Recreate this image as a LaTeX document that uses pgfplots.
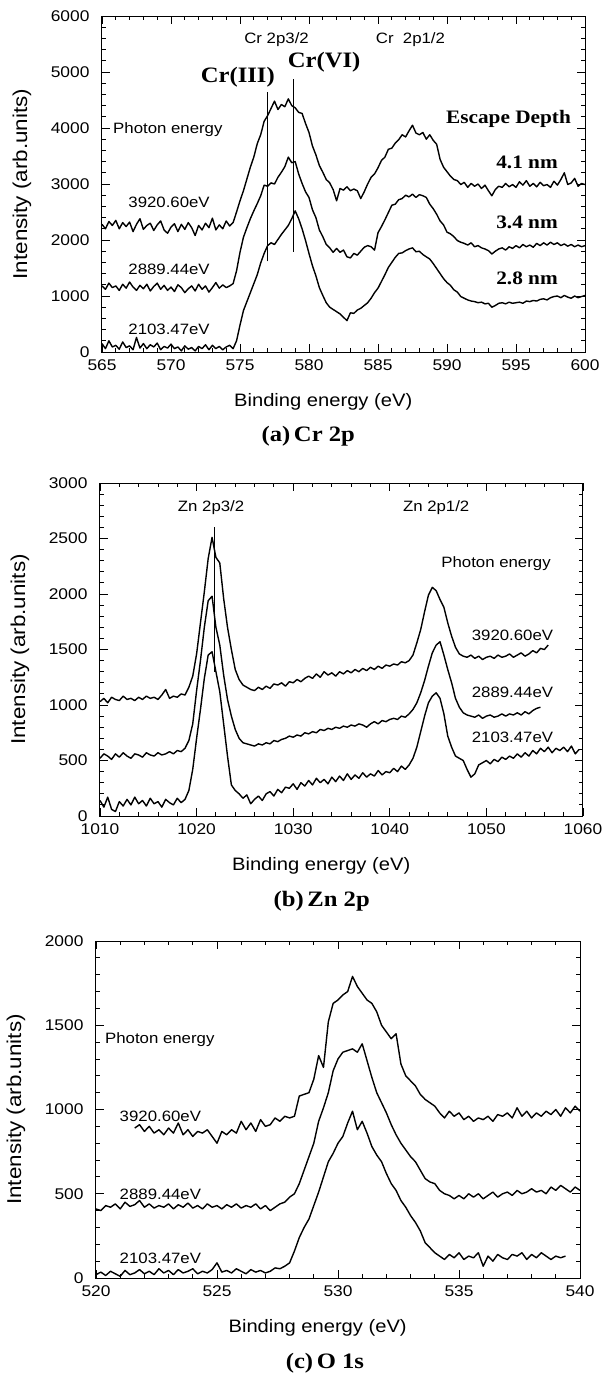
\documentclass[border=0pt]{standalone}
\usepackage{fontspec}
\setmainfont{Liberation Sans}[FakeStretch=1.12]
\newfontfamily\capfont{Liberation Serif}[FakeStretch=1.12]
\usepackage{pgfplots}
\usepackage{pgfplotstable}
\pgfplotsset{compat=1.18}

% E = binding energy, T/M/B = 3920.60, 2889.44, 2103.47 eV photon energy
\pgfplotstableread{
E T M B
565.00 2280 1180 150
565.25 2200 1120 60
565.50 2330 1230 200
565.75 2260 1150 90
566.00 2350 1180 120
566.25 2200 1100 50
566.50 2310 1210 180
566.75 2240 1140 80
567.00 2320 1250 110
567.25 2150 1160 40
567.50 2280 1100 260
567.75 2380 1190 70
568.00 2190 1130 150
568.25 2260 1210 60
568.50 2300 1090 130
568.75 2170 1170 90
569.00 2270 1230 160
569.25 2340 1120 40
569.50 2180 1190 100
569.75 2120 1100 70
570.00 2230 1160 140
570.25 2290 1080 60
570.50 2150 1200 90
570.75 2280 1150 20
571.00 2190 1060 110
571.25 2310 1130 50
571.50 2220 1180 80
571.75 2080 1090 20
572.00 2260 1210 100
572.25 2180 1120 60
572.50 2300 1180 130
572.75 2220 1070 40
573.00 2390 1150 120
573.25 2180 1240 60
573.50 2270 1140 100
573.75 2200 1200 40
574.00 2340 1150 90
574.25 2250 1180 120
574.50 2310 1220 60
574.75 2500 1450 200
575.00 2700 1780 480
575.25 2880 2050 740
575.50 3090 2220 900
575.75 3300 2380 1060
576.00 3480 2520 1220
576.25 3720 2650 1380
576.50 3880 2790 1590
576.75 4120 2980 1760
577.00 4220 2960 1900
577.25 4350 3020 1950
577.50 4480 3000 1920
577.75 4330 3120 2010
578.00 4420 3210 2100
578.25 4380 3310 2180
578.50 4520 3480 2260
578.75 4400 3380 2380
579.00 4360 3400 2520
579.25 4280 3180 2380
579.50 4260 3010 2200
579.75 4080 2860 1990
580.00 3920 2760 1760
580.25 3680 2540 1540
580.50 3520 2400 1360
580.75 3330 2180 1150
581.00 3210 2060 1010
581.25 3080 1920 880
581.50 3020 1860 800
581.75 2900 1780 760
582.00 2700 1850 720
582.25 2920 1780 680
582.50 2890 1820 620
582.75 2950 1700 560
583.00 2880 1680 700
583.25 2910 1760 690
583.50 2880 1730 750
583.75 2740 1800 780
584.00 2860 1870 830
584.25 3000 1900 880
584.50 3120 1880 960
584.75 3180 1820 1060
585.00 3290 2130 1140
585.25 3420 2240 1260
585.50 3480 2360 1380
585.75 3620 2490 1510
586.00 3640 2620 1600
586.25 3730 2640 1690
586.50 3790 2720 1760
586.75 3880 2740 1770
587.00 3840 2800 1810
587.25 3950 2770 1840
587.50 4050 2820 1860
587.75 3910 2760 1790
588.00 3880 2810 1800
588.25 3920 2790 1740
588.50 3800 2760 1700
588.75 3880 2640 1660
589.00 3780 2560 1580
589.25 3710 2460 1490
589.50 3440 2340 1400
589.75 3300 2270 1310
590.00 3220 2140 1240
590.25 3140 2110 1190
590.50 3080 2060 1110
590.75 3060 1990 1070
591.00 2990 1960 990
591.25 3030 1940 960
591.50 2940 1910 930
591.75 3010 1950 910
592.00 2960 1880 900
592.25 3000 1900 880
592.50 2920 1860 890
592.75 2980 1840 860
593.00 2880 1810 870
593.25 2790 1750 800
593.50 2900 1800 830
593.75 2960 1840 870
594.00 2940 1860 880
594.25 3010 1820 860
594.50 2950 1880 890
594.75 2990 1850 870
595.00 2940 1900 880
595.25 3040 1860 890
595.50 2980 1920 870
595.75 3060 1880 910
596.00 2960 1910 900
596.25 3010 1870 920
596.50 2950 1940 910
596.75 3030 1900 940
597.00 2970 1950 950
597.25 2990 1910 930
597.50 2940 1960 970
597.75 3050 1920 990
598.00 2980 1950 1000
598.25 3080 1900 970
598.50 3200 1930 1010
598.75 2990 1890 980
599.00 3020 1920 960
599.25 3100 1880 1000
599.50 2960 1910 970
599.75 3010 1880 990
600.00 2990 1900 1010
}\crdata

\pgfplotstableread{
E T M B
1010.0 1030 520 140
1010.4 1060 560 80
1010.8 1020 540 170
1011.2 1070 510 60
1011.6 1050 560 40
1012.0 1040 530 130
1012.4 1080 570 90
1012.8 1050 540 150
1013.2 1060 520 100
1013.6 1040 560 170
1014.0 1070 550 110
1014.4 1050 530 140
1014.8 1080 570 90
1015.2 1060 550 160
1015.6 1070 540 110
1016.0 1050 570 130
1016.4 1090 550 80
1016.8 1140 560 150
1017.2 1060 580 120
1017.6 1080 560 100
1018.0 1070 590 160
1018.4 1100 580 120
1018.8 1090 610 150
1019.2 1160 680 230
1019.6 1260 830 420
1020.0 1460 1130 700
1020.4 1740 1400 960
1020.8 2020 1700 1240
1021.2 2320 1940 1450
1021.6 2510 1980 1480
1022.0 2330 1700 1300
1022.4 2280 1540 1120
1022.8 1960 1270 830
1023.2 1700 1050 540
1023.6 1500 900 280
1024.0 1320 780 230
1024.4 1230 700 200
1024.8 1180 660 160
1025.2 1160 650 190
1025.6 1140 640 110
1026.0 1130 630 150
1026.4 1160 650 180
1026.8 1140 640 140
1027.2 1170 660 200
1027.6 1150 650 220
1028.0 1190 680 180
1028.4 1180 670 240
1028.8 1200 690 210
1029.2 1170 700 260
1029.6 1210 720 250
1030.0 1200 710 290
1030.4 1230 730 240
1030.8 1210 720 300
1031.2 1240 750 270
1031.6 1260 740 320
1032.0 1240 760 280
1032.4 1280 750 340
1032.8 1250 780 300
1033.2 1300 770 330
1033.6 1270 790 290
1034.0 1290 780 350
1034.4 1260 800 310
1034.8 1300 790 360
1035.2 1280 810 320
1035.6 1310 800 380
1036.0 1290 820 330
1036.4 1320 810 370
1036.8 1300 830 340
1037.2 1330 820 390
1037.6 1310 800 350
1038.0 1340 830 380
1038.4 1320 850 360
1038.8 1350 830 410
1039.2 1330 860 370
1039.6 1360 850 400
1040.0 1350 870 390
1040.4 1370 880 430
1040.8 1360 870 400
1041.2 1390 900 450
1041.6 1380 890 420
1042.0 1400 920 460
1042.4 1450 960 520
1042.8 1560 1020 620
1043.2 1680 1110 760
1043.6 1840 1220 900
1044.0 1990 1350 1020
1044.4 2060 1470 1080
1044.8 2030 1540 1110
1045.2 1950 1570 1060
1045.6 1880 1450 920
1046.0 1740 1320 720
1046.4 1620 1200 620
1046.8 1520 1060 540
1047.2 1460 980 520
1047.6 1440 930 500
1048.0 1430 910 420
1048.4 1450 900 350
1048.8 1420 890 380
1049.2 1440 910 460
1049.6 1410 880 480
1050.0 1430 900 500
1050.4 1440 910 470
1050.8 1420 890 510
1051.2 1450 900 490
1051.6 1430 920 530
1052.0 1440 900 510
1052.4 1460 920 540
1052.8 1430 910 520
1053.2 1450 930 560
1053.6 1470 910 530
1054.0 1440 940 570
1054.4 1460 920 540
1054.8 1490 950 590
1055.2 1470 970 560
1055.6 1510 980 610
1056.0 1500 nan 580
1056.4 1540 nan 620
1056.8 nan nan 570
1057.2 nan nan 610
1057.6 nan nan 590
1058.0 nan nan 620
1058.4 nan nan 580
1058.8 nan nan 630
1059.2 nan nan 560
1059.6 nan nan 600
}\zndata

\pgfplotstableread{
E T M B
520.0 nan 410 20
520.2 nan 400 35
520.4 nan 430 15
520.6 nan 420 40
520.8 nan 440 25
521.0 nan 410 10
521.2 nan 450 45
521.4 nan 425 20
521.6 890 435 30
521.8 910 460 50
522.0 870 420 25
522.2 900 440 40
522.4 860 415 20
522.6 880 430 55
522.8 850 420 30
523.0 890 440 45
523.2 860 410 20
523.4 920 435 50
523.6 850 420 30
523.8 880 445 40
524.0 840 415 55
524.2 870 430 25
524.4 860 410 40
524.6 880 440 30
524.8 840 420 50
525.0 800 430 90
525.2 870 410 35
525.4 850 435 45
525.6 880 420 30
525.8 860 440 55
526.0 930 415 40
526.2 880 430 25
526.4 920 420 50
526.6 870 440 35
526.8 940 410 45
527.0 900 430 30
527.2 910 400 40
527.4 950 420 60
527.6 930 440 55
527.8 960 450 70
528.0 950 480 90
528.2 960 500 160
528.4 1080 560 240
528.6 1090 640 300
528.8 1100 720 350
529.0 1180 800 430
529.2 1320 930 510
529.4 1250 1010 600
529.6 1520 1100 690
529.8 1630 1230 740
530.0 1650 1300 800
530.2 1680 1340 840
530.4 1700 1350 920
530.6 1790 1360 990
530.8 1730 1340 880
531.0 1690 1390 930
531.2 1650 1290 860
531.4 1630 1190 780
531.6 1580 1100 730
531.8 1500 1040 690
532.0 1460 980 620
532.2 1420 910 560
532.4 1450 850 520
532.6 1270 800 460
532.8 1200 760 420
533.0 1170 720 370
533.2 1140 690 330
533.4 1090 640 280
533.6 1060 590 210
533.8 1040 570 180
534.0 1020 560 150
534.2 980 520 130
534.4 950 500 110
534.6 990 490 140
534.8 960 470 120
535.0 980 490 150
535.2 940 470 110
535.4 960 500 130
535.6 930 480 120
535.8 950 500 150
536.0 940 470 70
536.2 960 490 130
536.4 930 510 100
536.6 970 480 140
536.8 960 500 120
537.0 980 510 110
537.2 950 490 140
537.4 1010 520 130
537.6 960 500 150
537.8 990 510 110
538.0 950 530 140
538.2 980 510 120
538.4 960 520 150
538.6 990 500 130
538.8 970 540 110
539.0 1000 520 130
539.2 960 550 120
539.4 1010 530 130
539.6 980 510 nan
539.8 1020 540 nan
540.0 990 520 nan
}\odata

\newcommand{\ann}{\fontsize{15}{17}\selectfont}
\newcommand{\capbig}{\capfont\bfseries\fontsize{22}{24}\selectfont}
\newcommand{\capmid}{\capfont\bfseries\fontsize{19}{21}\selectfont}

\pgfplotsset{
  spec/.style={
    scale only axis, anchor=south west, clip=false,
    axis line style={line width=1pt},
    every tick/.style={black, line width=0.9pt},
    major tick length=8pt, minor tick length=4pt,
    scaled ticks=false,
    /pgf/number format/assume math mode=true,
    /pgf/number format/1000 sep={},
    tick label style={font=\fontsize{15.5}{17}\selectfont},
    yticklabel style={xshift=-9pt},
    xticklabel style={yshift=-4pt},
    every axis x label/.style={at={(axis description cs:0.458,0)}, anchor=center,
      yshift=-50pt, font=\fontsize{18}{20}\selectfont},
    every axis y label/.style={at={(axis description cs:0,0.5)}, xshift=-80pt,
      rotate=90, anchor=center, font=\fontsize{20}{22}\selectfont},
    xlabel={Binding energy (eV)}, ylabel={Intensity (arb.units)},
    cycle list={black, line width=1.4pt, mark=none, line join=round\\},
  }
}

\begin{document}
\begin{tikzpicture}
\path[use as bounding box] (0pt,0pt) rectangle (602pt,-1385pt);

% (a) Cr 2p
\begin{axis}[spec, at={(102pt,-352pt)}, width=483pt, height=336pt,
  xmin=565, xmax=600, ymin=0, ymax=6000,
  xtick={565,570,...,600}, ytick={0,1000,...,6000},
  minor x tick num=4, minor y tick num=4]
\addplot table[x=E, y=T] {\crdata};
\addplot table[x=E, y=M] {\crdata};
\addplot table[x=E, y=B] {\crdata};
\addplot[black, line width=1pt] coordinates {(577.0,1620) (577.0,4650)};
\addplot[black, line width=1pt] coordinates {(578.9,1790) (578.9,4880)};
\node[font=\ann] at (577.65,5570) {Cr 2p3/2};
\node[font=\ann] at (587.35,5570) {Cr~~2p1/2};
\node[font=\capbig] at (574.84,4912) {Cr(III)};
\node[font=\capbig] at (581.1,5176) {Cr(VI)};
\node[font=\ann, anchor=west, inner sep=0pt] at (565.8,3970) {Photon energy};
\node[font=\ann] at (569.86,2676) {3920.60eV};
\node[font=\ann] at (569.86,1480) {2889.44eV};
\node[font=\ann] at (569.86,412) {2103.47eV};
\node[font=\capmid] at (594.46,4159) {Escape Depth};
\node[font=\capmid] at (595.8,3382) {4.1 nm};
\node[font=\capmid] at (595.8,2312) {3.4 nm};
\node[font=\capmid] at (595.8,1324) {2.8 nm};
\node[font=\capbig] at (rel axis cs:0.427,0) [yshift=-84pt] {(a)\,Cr 2p};
\end{axis}

% (b) Zn 2p
\begin{axis}[spec, at={(100pt,-816pt)}, width=483pt, height=333pt,
  xmin=1010, xmax=1060, ymin=0, ymax=3000,
  xtick={1010,1020,...,1060}, ytick={0,500,...,3000},
  minor x tick num=4, minor y tick num=4]
\addplot table[x=E, y=T] {\zndata};
\addplot table[x=E, y=M] {\zndata};
\addplot table[x=E, y=B] {\zndata};
\addplot[black, line width=0.8pt] coordinates {(1021.8,1300) (1021.8,2600)};
\node[font=\ann] at (1021.5,2774) {Zn 2p3/2};
\node[font=\ann] at (1044.8,2774) {Zn 2p1/2};
\node[font=\ann] at (1051.0,2276) {Photon energy};
\node[font=\ann] at (1052.7,1632) {3920.60eV};
\node[font=\ann] at (1052.7,1113) {2889.44eV};
\node[font=\ann] at (1052.7,712) {2103.47eV};
\node[font=\capbig] at (rel axis cs:0.459,0) [yshift=-85pt] {(b)\,Zn 2p};
\end{axis}

% (c) O 1s
\begin{axis}[spec, at={(96pt,-1278pt)}, width=484pt, height=337pt,
  xmin=520, xmax=540, ymin=0, ymax=2000,
  xtick={520,525,...,540}, ytick={0,500,...,2000},
  minor x tick num=4, minor y tick num=4]
\addplot table[x=E, y=T] {\odata};
\addplot table[x=E, y=M] {\odata};
\addplot table[x=E, y=B] {\odata};
\node[font=\ann, anchor=west, inner sep=0pt] at (520.37,1414) {Photon energy};
\node[font=\ann] at (522.66,959) {3920.60eV};
\node[font=\ann] at (522.66,498) {2889.44eV};
\node[font=\ann] at (522.66,116) {2103.47eV};
\node[font=\capbig] at (rel axis cs:0.473,0) [yshift=-85pt] {(c)\,O 1s};
\end{axis}
\end{tikzpicture}
\end{document}
